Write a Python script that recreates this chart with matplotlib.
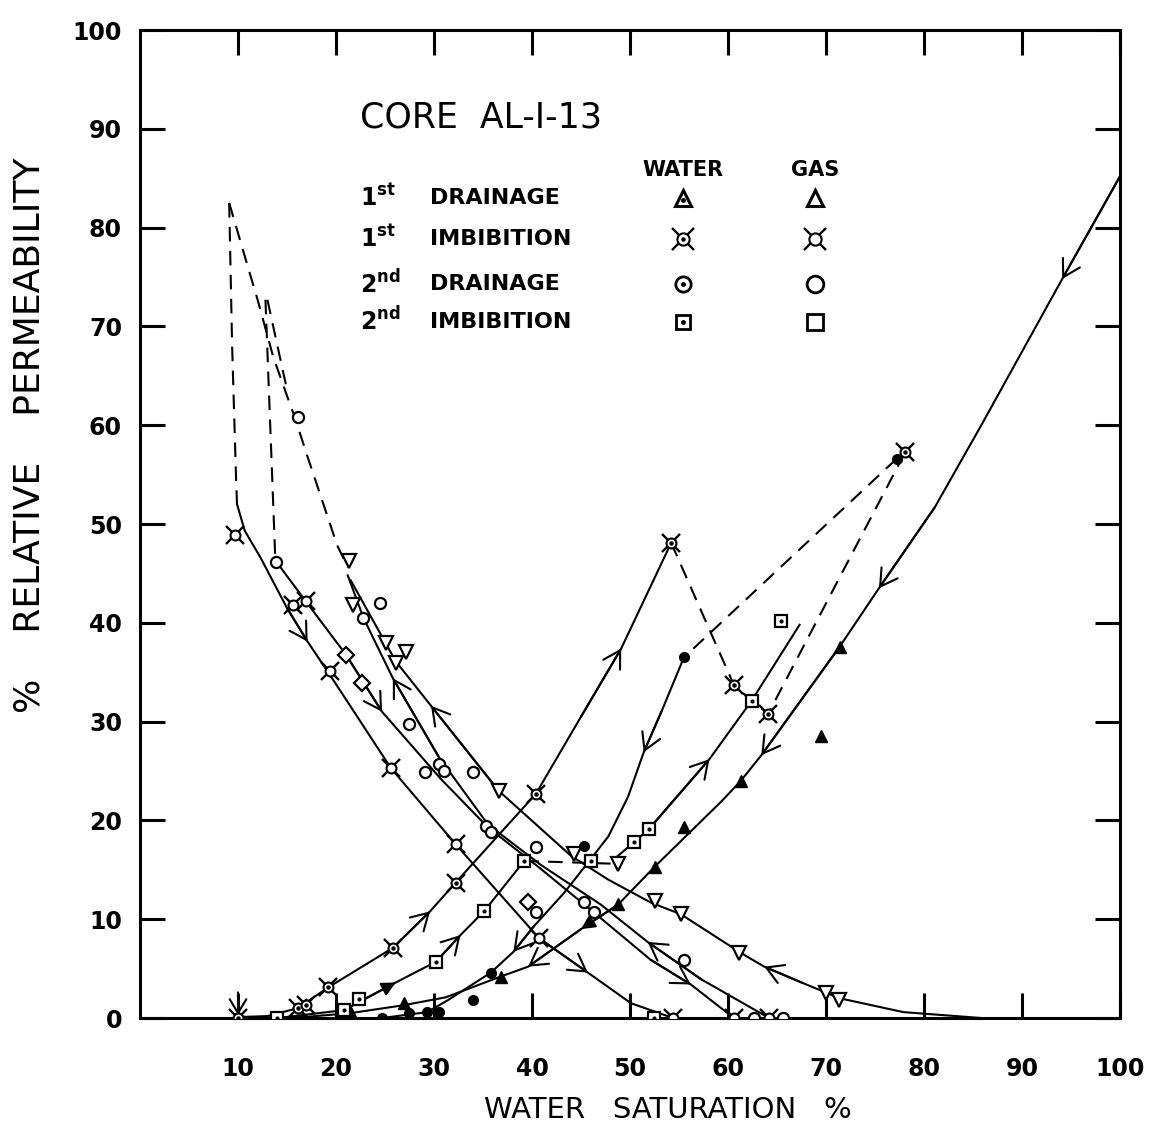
import matplotlib.pyplot as plt

plt.rcParams['font.family'] = ['DejaVu Sans']

# x = water saturation %, y = relative permeability %

# ---- gas curves ----
gas_imb1_dash_x = [9.1, 9.4, 9.8, 9.9]
gas_imb1_dash_y = [82.5, 68.0, 54.7, 52.0]
gas_imb1_x = [9.9, 10.7, 12.3, 15.0, 17.1, 19.4, 25.6, 32.2, 40.7, 45.7, 50.1, 54.4]
gas_imb1_y = [52.0, 49.3, 46.6, 41.5, 38.1, 34.7, 25.3, 17.6, 8.1, 4.6, 1.5, 0.0]

gas_imb2_dash_x = [12.8, 13.8]
gas_imb2_dash_y = [72.7, 46.6]
gas_imb2_x = [13.9, 16.9, 21.0, 24.7, 30.7, 35.5, 40.9, 46.3, 52.1, 56.2, 60.6]
gas_imb2_y = [46.2, 42.2, 36.8, 31.0, 24.2, 19.3, 15.1, 10.7, 5.9, 3.4, 0.0]

gas_dr2_dash_x = [9.1, 10.9, 12.0, 13.6, 15.1, 15.8, 17.1, 20.1, 21.2]
gas_dr2_dash_y = [82.5, 76.4, 72.7, 66.9, 62.7, 60.8, 56.8, 47.9, 45.6]
gas_dr2_branch_x = [13.0, 15.0]
gas_dr2_branch_y = [72.7, 63.6]
gas_dr2_x = [21.2, 22.8, 25.8, 30.5, 35.5, 40.9, 47.0, 51.8, 57.3, 64.2]
gas_dr2_y = [44.8, 40.5, 34.4, 26.4, 19.6, 15.5, 11.5, 7.7, 3.9, 0.0]

gas_dr1_x = [21.5, 26.1, 29.7, 36.6, 44.0, 47.8, 52.1, 55.2, 61.3, 63.7, 67.5, 71.4, 77.9, 85.9]
gas_dr1_y = [44.3, 36.1, 31.6, 23.0, 16.4, 14.0, 11.7, 10.5, 6.6, 5.2, 3.6, 2.0, 0.6, 0.0]

# ---- water curves ----
wat_imb1_x = [10.0, 13.0, 16.1, 19.2, 25.8, 29.6, 32.2, 40.4, 45.0, 49.1, 54.2]
wat_imb1_y = [0.1, 0.2, 1.0, 3.1, 7.1, 10.8, 13.7, 22.7, 30.5, 37.4, 48.1]
wat_imb1_dash_x = [54.2, 60.6, 62.4, 64.1, 78.1]
wat_imb1_dash_y = [48.1, 33.7, 32.1, 30.8, 57.3]

wat_dr2_dash_x = [77.2, 55.5]
wat_dr2_dash_y = [56.6, 36.5]
wat_dr2_x = [55.5, 53.2, 51.4, 49.8, 47.8, 46.0, 43.3, 40.2, 38.1, 35.8, 31.4, 29.3, 24.7]
wat_dr2_y = [36.5, 31.0, 26.9, 22.4, 18.4, 16.1, 12.7, 9.3, 6.7, 4.6, 1.8, 0.6, 0.0]

wat_dr1_x = [100.0, 94.1, 85.9, 81.1, 75.4, 71.4, 63.4, 61.3, 59.3, 52.5, 48.8, 45.0,
             39.6, 36.8, 31.2, 26.9, 21.5, 16.7, 10.0]
wat_dr1_y = [85.2, 74.8, 60.1, 51.7, 43.5, 37.6, 26.6, 24.0, 21.9, 15.3, 11.5, 9.0,
             5.2, 4.2, 2.1, 1.3, 0.5, 0.1, 0.0]

wat_imb2_x = [14.0, 20.8, 26.1, 30.2, 32.7, 35.1, 39.2]
wat_imb2_y = [0.0, 0.8, 3.6, 5.7, 8.4, 10.8, 15.9]
wat_imb2_dash_x = [39.2, 49.0]
wat_imb2_dash_y = [15.9, 15.6]
wat_imb2b_x = [48.4, 50.4, 51.9, 58.1, 62.4, 67.3]
wat_imb2b_y = [16.1, 17.8, 19.1, 26.2, 32.1, 39.8]

# ---- measured points ----
tri_gas_x = [21.3, 21.7, 25.1, 27.1, 26.1, 36.6, 44.3, 48.8, 52.5, 55.2, 61.1, 70.0, 71.3]
tri_gas_y = [46.3, 41.8, 38.0, 37.0, 35.9, 23.0, 16.6, 15.6, 11.8, 10.5, 6.6, 2.5, 1.8]
xc_gas_x = [9.7, 15.6, 16.9, 19.4, 25.6, 32.2, 40.7, 54.4, 60.6, 64.2]
xc_gas_y = [48.9, 41.8, 42.2, 35.1, 25.3, 17.6, 8.1, 0.0, 0.0, 0.0]
circ_gas_x = [16.1, 13.9, 24.5, 22.8, 27.4, 29.1, 30.5, 31.0, 34.0, 35.3, 35.8, 40.4,
              40.4, 45.3, 46.3, 55.5, 62.7, 65.6]
circ_gas_y = [60.8, 46.2, 42.0, 40.5, 29.8, 24.9, 25.7, 25.0, 24.9, 19.4, 18.8, 17.3,
              10.7, 11.7, 10.7, 5.9, 0.0, 0.0]
sq_gas_x = [21.0, 22.7, 39.6]
sq_gas_y = [36.7, 33.9, 11.7]

tri_wat_x = [10.0, 21.5, 26.9, 36.8, 48.8, 52.5, 55.5, 61.3, 69.5, 71.4]
tri_wat_y = [0.0, 0.5, 1.5, 4.2, 11.5, 15.3, 19.3, 24.0, 28.5, 37.6]
xc_wat_x = [10.0, 16.1, 16.9, 19.2, 25.8, 32.2, 40.4, 54.2, 60.6, 64.1, 78.1]
xc_wat_y = [0.0, 1.0, 1.3, 3.1, 7.1, 13.7, 22.7, 48.1, 33.7, 30.8, 57.3]
circ_wat_x = [55.5, 77.2, 45.3, 35.8, 34.0, 30.5, 29.3, 27.4, 24.7]
circ_wat_y = [36.5, 56.6, 17.4, 4.6, 1.8, 0.6, 0.6, 0.5, 0.0]
sq_wat_x = [14.0, 20.8, 22.3, 30.2, 35.1, 39.2, 46.0, 50.4, 51.9, 62.4, 65.4, 52.4]
sq_wat_y = [0.0, 0.8, 1.9, 5.7, 10.8, 15.9, 15.9, 17.8, 19.1, 32.1, 40.2, 0.0]

xticks = [10, 20, 30, 40, 50, 60, 70, 80, 90, 100]
yticks = [0, 10, 20, 30, 40, 50, 60, 70, 80, 90, 100]

LW = 1.5
DASH = (0, (7, 4.5))


def line(ax, xs, ys, dashed=False):
    ax.plot(xs, ys, color='k', lw=LW, ls=DASH if dashed else '-', zorder=2)


def arrow(ax, xs, ys, head, tail, filled=False):
    if filled:
        style, ms = '-|>,head_length=0.6,head_width=0.3', 14
    else:
        style, ms = '->,head_length=0.6,head_width=0.35', 20
    ax.annotate('', xy=(xs[head], ys[head]), xytext=(xs[tail], ys[tail]),
                arrowprops=dict(arrowstyle=style, lw=LW, color='k', fc='k',
                                shrinkA=0, shrinkB=0, mutation_scale=ms), zorder=3)


def xcirc(ax, xs, ys, dot, ms=13, **kw):
    ax.plot(xs, ys, 'x', ms=ms, mew=1.7, color='k', ls='none', zorder=4, **kw)
    ax.plot(xs, ys, 'o', ms=ms * 0.55, mfc='white', mec='k', mew=1.5, ls='none', zorder=5, **kw)
    if dot:
        ax.plot(xs, ys, 'o', ms=2.2, color='k', ls='none', zorder=6, **kw)


fig = plt.figure(figsize=(11.58, 11.38), dpi=100)
ax = fig.add_axes([0.1209, 0.1054, 0.8463, 0.8682])
ax.set_xlim(0, 100)
ax.set_ylim(0, 100)

# curves
line(ax, gas_imb1_dash_x, gas_imb1_dash_y, True)
line(ax, gas_imb1_x, gas_imb1_y)
line(ax, gas_imb2_dash_x, gas_imb2_dash_y, True)
line(ax, gas_imb2_x, gas_imb2_y)
line(ax, gas_dr2_dash_x, gas_dr2_dash_y, True)
line(ax, gas_dr2_branch_x, gas_dr2_branch_y, True)
line(ax, gas_dr2_x, gas_dr2_y)
line(ax, gas_dr1_x, gas_dr1_y)
line(ax, wat_imb1_x, wat_imb1_y)
line(ax, wat_imb1_dash_x, wat_imb1_dash_y, True)
line(ax, wat_dr2_dash_x, wat_dr2_dash_y, True)
line(ax, wat_dr2_x, wat_dr2_y)
line(ax, wat_dr1_x, wat_dr1_y)
line(ax, wat_imb2_x, wat_imb2_y)
line(ax, wat_imb2_dash_x, wat_imb2_dash_y, True)
line(ax, wat_imb2b_x, wat_imb2b_y)

# direction arrows
arrow(ax, gas_imb1_x, gas_imb1_y, 4, 3)
arrow(ax, gas_imb1_x, gas_imb1_y, 9, 8)
arrow(ax, gas_imb2_x, gas_imb2_y, 3, 2)
arrow(ax, gas_imb2_x, gas_imb2_y, 9, 8)
arrow(ax, gas_dr2_x, gas_dr2_y, 2, 3)
arrow(ax, gas_dr2_x, gas_dr2_y, 7, 8)
arrow(ax, gas_dr1_x, gas_dr1_y, 2, 3)
arrow(ax, gas_dr1_x, gas_dr1_y, 9, 10)
arrow(ax, wat_imb1_x, wat_imb1_y, 5, 4)
arrow(ax, wat_imb1_x, wat_imb1_y, 9, 8)
arrow(ax, wat_dr2_x, wat_dr2_y, 2, 1)
arrow(ax, wat_dr2_x, wat_dr2_y, 8, 7)
arrow(ax, wat_dr1_x, wat_dr1_y, 1, 0)
arrow(ax, wat_dr1_x, wat_dr1_y, 4, 3)
arrow(ax, wat_dr1_x, wat_dr1_y, 6, 5)
arrow(ax, wat_dr1_x, wat_dr1_y, 11, 10, filled=True)
arrow(ax, wat_dr1_x, wat_dr1_y, 12, 11)
arrow(ax, wat_imb2_x, wat_imb2_y, 4, 3)
arrow(ax, wat_imb2_x, wat_imb2_y, 2, 1, filled=True)
arrow(ax, wat_imb2b_x, wat_imb2b_y, 3, 2)
ax.annotate('', xy=(10, 0.3), xytext=(10, 2.6),
            arrowprops=dict(arrowstyle='->,head_length=0.5,head_width=0.3', lw=LW,
                            color='k', shrinkA=0, shrinkB=0, mutation_scale=20))

# points
ax.plot(tri_gas_x, tri_gas_y, 'v', ms=10, mfc='white', mec='k', mew=1.6, ls='none', zorder=5)
xcirc(ax, xc_gas_x, xc_gas_y, False)
ax.plot(circ_gas_x, circ_gas_y, 'o', ms=8, mfc='white', mec='k', mew=1.6, ls='none', zorder=5)
ax.plot(sq_gas_x, sq_gas_y, 'D', ms=8, mfc='white', mec='k', mew=1.6, ls='none', zorder=5)

ax.plot(tri_wat_x, tri_wat_y, '^', ms=9, color='k', ls='none', zorder=5)
xcirc(ax, xc_wat_x, xc_wat_y, True)
ax.plot(circ_wat_x, circ_wat_y, 'o', ms=7, color='k', ls='none', zorder=5)
ax.plot(sq_wat_x, sq_wat_y, 's', ms=8, mfc='white', mec='k', mew=1.6, ls='none', zorder=5)
ax.plot(sq_wat_x, sq_wat_y, 'o', ms=2, color='k', ls='none', zorder=6)

# legend block
T = ax.transAxes
ax.text(0.224, 0.911, 'CORE  AL-I-13', transform=T, fontsize=25, va='center', ha='left')
ax.text(0.554, 0.858, 'WATER', transform=T, fontsize=15, fontweight='bold', ha='center', va='center')
ax.text(0.689, 0.858, 'GAS', transform=T, fontsize=15, fontweight='bold', ha='center', va='center')
rows_y = [0.830, 0.789, 0.743, 0.705]
rows_num = [r'$\mathbf{1^{st}}$', r'$\mathbf{1^{st}}$', r'$\mathbf{2^{nd}}$', r'$\mathbf{2^{nd}}$']
rows_txt = ['DRAINAGE', 'IMBIBITION', 'DRAINAGE', 'IMBIBITION']
for yy, num, txt in zip(rows_y, rows_num, rows_txt):
    ax.text(0.224, yy, num, transform=T, fontsize=17, ha='left', va='center')
    ax.text(0.296, yy, txt, transform=T, fontsize=16, fontweight='bold', ha='left', va='center')

wx, gx = 0.554, 0.689
ax.plot([wx], [rows_y[0]], '^', ms=12, mfc='white', mec='k', mew=2.2, transform=T)
ax.plot([wx], [rows_y[0] - 0.002], 'o', ms=2.5, color='k', transform=T)
ax.plot([gx], [rows_y[0]], '^', ms=12, mfc='white', mec='k', mew=2.2, transform=T)
xcirc(ax, [wx], [rows_y[1]], True, ms=16, transform=T)
xcirc(ax, [gx], [rows_y[1]], False, ms=16, transform=T)
ax.plot([wx], [rows_y[2]], 'o', ms=11, mfc='white', mec='k', mew=2, transform=T)
ax.plot([wx], [rows_y[2]], 'o', ms=2.5, color='k', transform=T)
ax.plot([gx], [rows_y[2]], 'o', ms=12, mfc='white', mec='k', mew=2, transform=T)
ax.plot([wx], [rows_y[3]], 's', ms=10, mfc='white', mec='k', mew=2, transform=T)
ax.plot([wx], [rows_y[3]], 'o', ms=2.5, color='k', transform=T)
ax.plot([gx], [rows_y[3]], 's', ms=11, mfc='white', mec='k', mew=2, transform=T)

# axes styling
ax.set_xticks(xticks)
ax.set_yticks(yticks)
ax.tick_params(direction='in', length=18, width=2.2, top=True, right=True, labelsize=17)
ax.tick_params(axis='x', pad=28)
ax.tick_params(axis='y', pad=13)
for lbl in ax.get_xticklabels() + ax.get_yticklabels():
    lbl.set_fontweight('bold')
for sp in ax.spines.values():
    sp.set_linewidth(2.2)

fig.text(668 / 1158, 1 - 1110 / 1138, 'WATER   SATURATION   %', fontsize=21,
         ha='center', va='center')
fig.text(30 / 1158, 1 - 435 / 1138, '%    RELATIVE    PERMEABILITY', fontsize=26,
         rotation=90, ha='center', va='center')

fig.savefig('out.png', dpi=100)
